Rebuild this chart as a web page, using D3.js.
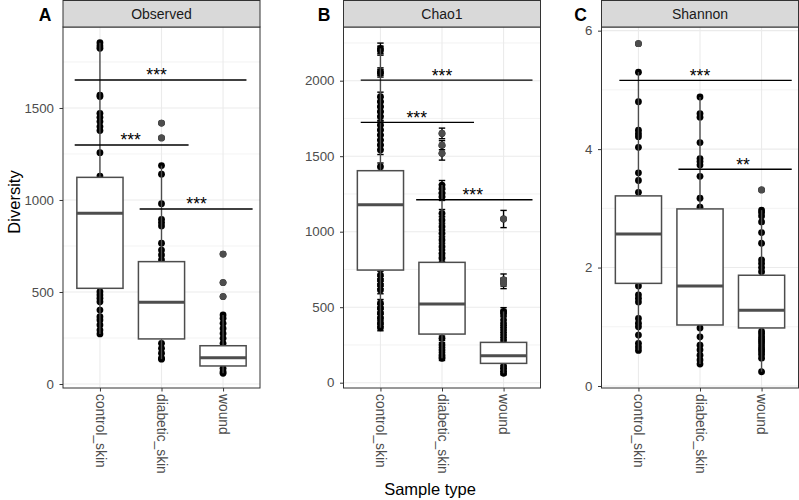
<!DOCTYPE html>
<html><head><meta charset="utf-8">
<script src="https://cdn.jsdelivr.net/npm/d3@7"></script>
<style>body{margin:0;background:#fff}svg{display:block;font-family:"Liberation Sans",Arial,Helvetica,sans-serif}</style>
</head><body><svg id="c" width="799" height="500"></svg>
<script>
// ---------- data ----------
const categories = ["control_skin", "diabetic_skin", "wound"];
const panelTitles = ["Observed", "Chao1", "Shannon"];
const panelLetters = ["A", "B", "C"];

const yTicksObserved = [0, 500, 1000, 1500];
const yMinorObserved = [250, 750, 1250, 1750];
const yTicksChao1 = [0, 500, 1000, 1500, 2000];
const yMinorChao1 = [250, 750, 1250, 1750, 2250];
const yTicksShannon = [0, 2, 4, 6];
const yMinorShannon = [1, 3, 5];

// box stats per category: [whiskerLow, q1, median, q3, whiskerHigh]
const boxObserved = [[272, 520, 928, 1123, 1855], [135, 245, 444, 665, 1187], [58, 98, 143, 208, 375]];
const boxChao1 = [[364, 746, 1179, 1404, 2214], [162, 322, 521, 797, 1309], [62, 128, 179, 267, 472]];
const boxShannon = [[0.60, 1.733, 2.565, 3.21, 5.30], [0.37, 1.03, 1.69, 2.99, 4.88], [0.24, 0.98, 1.28, 1.87, 2.97]];

// visible sample values (points inside boxes are hidden by the box fill)
const obsControl = [1855, 1837, 1824, 1570, 1562, 1471, 1449, 1426, 1399, 1377, 1257, 1130, 502, 484, 466, 447, 402, 366, 348, 321, 293, 272];
const obsDiabetic = [1418, 1337, 1187, 1140, 980, 895, 877, 859, 765, 728, 701, 674, 221, 194, 167, 140, 135];
const obsWound = [706, 551, 475, 375, 357, 330, 302, 275, 248, 221, 85, 67, 58];

// Chao1 values with standard errors [value, se]
const chaoControl = [[2214, 35], [2199, 30], [2060, 25], [2049, 25], [1894, 30], [1861, 30], [1828, 30], [1795, 30], [1762, 30], [1707, 30], [1674, 30], [1640, 30], [1607, 30], [1574, 30], [1541, 30], [1430, 25], [713, 25], [680, 25], [647, 25], [614, 25], [526, 25], [493, 25], [460, 25], [427, 25], [393, 20], [364, 20]];
const chaoDiabetic = [[1651, 35], [1573, 30], [1519, 45], [1309, 30], [1287, 25], [1254, 25], [1232, 25], [1122, 25], [1077, 25], [1033, 25], [989, 25], [945, 25], [901, 25], [857, 25], [824, 20], [294, 15], [250, 15], [217, 15], [183, 15], [162, 15]];
const chaoWound = [[1084, 57], [680, 40], [658, 35], [472, 25], [460, 20], [415, 20], [381, 15], [349, 15], [316, 15], [283, 15], [106, 10], [84, 10], [62, 10]];

const shanControl = [5.78, 5.30, 4.80, 4.32, 4.26, 4.21, 4.03, 3.60, 3.47, 3.27, 1.69, 1.54, 1.48, 1.42, 1.14, 1.06, 1.00, 0.86, 0.72, 0.66, 0.60];
const shanDiabetic = [4.88, 4.60, 4.54, 4.11, 3.84, 3.79, 3.73, 3.54, 3.17, 3.02, 0.98, 0.83, 0.69, 0.61, 0.52, 0.44, 0.37];
const shanWound = [3.31, 2.97, 2.93, 2.87, 2.77, 2.59, 2.41, 2.13, 2.07, 2.00, 1.93, 0.92, 0.88, 0.83, 0.79, 0.75, 0.71, 0.66, 0.62, 0.58, 0.53, 0.47, 0.24];

// significance brackets: [xStart, xEnd, y, label, labelX] (x in category units 1..3)
const sigObserved = [[0.59, 3.38, 1652, "***", 1.92], [0.59, 2.44, 1299, "***", 1.5], [1.645, 3.48, 951, "***", 2.57]];
const sigChao1 = [[0.68, 3.47, 2004, "***", 2.0], [0.68, 2.52, 1724, "***", 1.59], [1.58, 3.47, 1212, "***", 2.5]];
const sigShannon = [[0.69, 3.49, 5.16, "***", 2.0], [1.65, 3.49, 3.66, "**", 2.7]];

const yDomains = [[-21.7, 1940], [-35.1, 2355.6], [-0.034, 6.062]];

// ---------- layout ----------
const panelX = [[63, 260], [343.5, 540.5], [601.5, 798.5]];
const panelTop = 27, panelBottom = 388, stripTop = 0.5;
const letterX = [45, 324, 580.5];

const panels = [
  {ticks: yTicksObserved, minor: yMinorObserved, box: boxObserved, pts: [obsControl, obsDiabetic, obsWound].map(a => a.map(v => [v, 0])), err: false, sig: sigObserved},
  {ticks: yTicksChao1, minor: yMinorChao1, box: boxChao1, pts: [chaoControl, chaoDiabetic, chaoWound], err: true, sig: sigChao1},
  {ticks: yTicksShannon, minor: yMinorShannon, box: boxShannon, pts: [shanControl, shanDiabetic, shanWound].map(a => a.map(v => [v, 0])), err: false, sig: sigShannon}
];

const svg = d3.select("#c");
const boxCol = "#4d4d4d";

panels.forEach((p, i) => {
  const [x0, x1] = panelX[i];
  const x = d3.scaleLinear().domain([0.4, 3.6]).range([x0, x1]);
  const y = d3.scaleLinear().domain(yDomains[i]).range([panelBottom, panelTop]);
  const g = svg.append("g");

  g.append("rect").attr("x", x0).attr("y", panelTop).attr("width", x1 - x0).attr("height", panelBottom - panelTop).attr("fill", "#fff");
  g.selectAll(".mn").data(p.minor).join("line")
    .attr("x1", x0).attr("x2", x1).attr("y1", d => y(d)).attr("y2", d => y(d))
    .attr("stroke", "#ebebeb").attr("stroke-width", 0.6);
  g.selectAll(".mj").data(p.ticks).join("line")
    .attr("x1", x0).attr("x2", x1).attr("y1", d => y(d)).attr("y2", d => y(d))
    .attr("stroke", "#ebebeb").attr("stroke-width", 1.1);
  g.selectAll(".vg").data(categories).join("line")
    .attr("x1", (d, k) => x(k + 1)).attr("x2", (d, k) => x(k + 1)).attr("y1", panelTop).attr("y2", panelBottom)
    .attr("stroke", "#ebebeb").attr("stroke-width", 1.1);

  const bw = (x(1.75) - x(1)) / 2;

  categories.forEach((c, k) => {
    const cx = x(k + 1);
    const pts = p.pts[k];
    if (p.err) {
      const eg = g.append("g");
      pts.forEach(([v, se]) => {
        eg.append("line").attr("x1", cx).attr("x2", cx).attr("y1", y(v - se)).attr("y2", y(v + se)).attr("stroke", "#000").attr("stroke-width", 1.4);
        eg.append("line").attr("x1", cx - 3.2).attr("x2", cx + 3.2).attr("y1", y(v - se)).attr("y2", y(v - se)).attr("stroke", "#000").attr("stroke-width", 1.4);
        eg.append("line").attr("x1", cx - 3.2).attr("x2", cx + 3.2).attr("y1", y(v + se)).attr("y2", y(v + se)).attr("stroke", "#000").attr("stroke-width", 1.4);
      });
    }
    g.append("g").selectAll("circle").data(pts).join("circle")
      .attr("cx", cx).attr("cy", d => y(d[0])).attr("r", 3.4).attr("fill", "#000");
    const [wl, q1, md, q3, wh] = p.box[k];
    g.append("line").attr("x1", cx).attr("x2", cx).attr("y1", y(q3)).attr("y2", y(wh)).attr("stroke", boxCol).attr("stroke-width", 1.4);
    g.append("line").attr("x1", cx).attr("x2", cx).attr("y1", y(q1)).attr("y2", y(wl)).attr("stroke", boxCol).attr("stroke-width", 1.4);
    g.append("rect").attr("x", cx - bw).attr("y", y(q3)).attr("width", 2 * bw).attr("height", y(q1) - y(q3))
      .attr("fill", "#fff").attr("stroke", boxCol).attr("stroke-width", 1.5);
    g.append("line").attr("x1", cx - bw).attr("x2", cx + bw).attr("y1", y(md)).attr("y2", y(md)).attr("stroke", boxCol).attr("stroke-width", 3);
    g.append("g").selectAll("circle").data(pts.filter(d => d[0] > wh || d[0] < wl)).join("circle")
      .attr("cx", cx).attr("cy", d => y(d[0])).attr("r", 3.4).attr("fill", boxCol);
  });

  p.sig.forEach(([a, b, v, lab, lx]) => {
    g.append("line").attr("x1", x(a)).attr("x2", x(b)).attr("y1", y(v)).attr("y2", y(v)).attr("stroke", "#000").attr("stroke-width", 1.4);
    g.append("text").attr("x", x(lx)).attr("y", y(v) + 1.5).attr("text-anchor", "middle")
      .attr("font-size", 17.5).attr("fill", "#000").text(lab);
  });

  g.append("rect").attr("x", x0).attr("y", panelTop).attr("width", x1 - x0).attr("height", panelBottom - panelTop)
    .attr("fill", "none").attr("stroke", "#333").attr("stroke-width", 1);
  g.append("rect").attr("x", x0).attr("y", stripTop).attr("width", x1 - x0).attr("height", panelTop - stripTop)
    .attr("fill", "#d9d9d9").attr("stroke", "#333").attr("stroke-width", 1);
  g.append("text").attr("x", (x0 + x1) / 2).attr("y", 14).attr("dy", "0.35em").attr("text-anchor", "middle")
    .attr("font-size", 14).attr("fill", "#1a1a1a").text(panelTitles[i]);

  const ya = g.append("g").attr("transform", `translate(${x0},0)`)
    .call(d3.axisLeft(y).tickValues(p.ticks).tickSize(3.5).tickPadding(5.5).tickFormat(d3.format("d")));
  ya.select(".domain").remove();
  ya.selectAll("line").attr("stroke", "#333");
  ya.selectAll("text").attr("font-size", 13.3).attr("fill", "#4d4d4d").attr("font-family", null);

  const xa = g.append("g").attr("transform", `translate(0,${panelBottom})`)
    .call(d3.axisBottom(x).tickValues([1, 2, 3]).tickSize(3.5).tickFormat(d => categories[d - 1]));
  xa.select(".domain").remove();
  xa.selectAll("line").attr("stroke", "#333");
  xa.selectAll("text").attr("font-size", 13.8).attr("fill", "#4d4d4d").attr("font-family", null)
    .attr("transform", "rotate(90)").attr("x", 6).attr("y", 0).attr("dy", "0.35em").attr("text-anchor", "start");

  svg.append("text").attr("x", letterX[i]).attr("y", 21).attr("text-anchor", "middle")
    .attr("font-size", 17.5).attr("font-weight", "bold").attr("fill", "#000").text(panelLetters[i]);
});

svg.append("text").attr("transform", "translate(20,202) rotate(-90)").attr("text-anchor", "middle")
  .attr("font-size", 16.5).attr("fill", "#000").text("Diversity");
svg.append("text").attr("x", 430).attr("y", 495).attr("text-anchor", "middle")
  .attr("font-size", 16.5).attr("fill", "#000").text("Sample type");
</script>
</body></html>
